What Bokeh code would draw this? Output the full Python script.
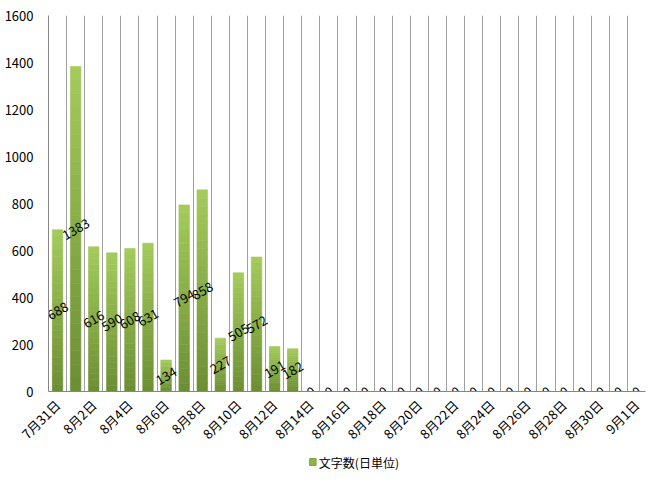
from bokeh.plotting import figure
from bokeh.models import FixedTicker, ColumnDataSource, Range1d
from bokeh.layouts import column
from bokeh.core.properties import value
from bokeh.embed import file_html
from bokeh.resources import INLINE
import math

categories = ["7月31日", "8月1日", "8月2日", "8月3日", "8月4日", "8月5日", "8月6日", "8月7日",
              "8月8日", "8月9日", "8月10日", "8月11日", "8月12日", "8月13日", "8月14日", "8月15日",
              "8月16日", "8月17日", "8月18日", "8月19日", "8月20日", "8月21日", "8月22日", "8月23日",
              "8月24日", "8月25日", "8月26日", "8月27日", "8月28日", "8月29日", "8月30日", "8月31日",
              "9月1日"]
values = [688, 1383, 616, 590, 608, 631, 134, 794, 858, 227, 505, 572, 191, 182,
          0, 0, 0, 0, 0, 0, 0, 0, 0, 0, 0, 0, 0, 0, 0, 0, 0, 0, 0]
series_name = "文字数(日単位)"
y_ticks = [0, 200, 400, 600, 800, 1000, 1200, 1400, 1600]

FONT = "Noto Sans CJK JP"
n = len(categories)
xs = list(range(n))

p = figure(width=647, height=452, output_backend="svg", toolbar_location=None,
           x_range=Range1d(-0.5, n - 0.5), y_range=Range1d(0, 1600),
           min_border_left=48, min_border_right=2, min_border_top=15, min_border_bottom=59)
p.outline_line_color = None

# gradient bars
dark = (0x6c, 0x8e, 0x33)
light = (0xa4, 0xcb, 0x5c)
N = 24
for k in range(N):
    t = (k + 0.5) / N
    c = tuple(int(round(dark[i] + (light[i] - dark[i]) * t)) for i in range(3))
    col = "#%02x%02x%02x" % c
    src = ColumnDataSource(dict(x=xs,
                                bottom=[v * k / N for v in values],
                                top=[v * (k + 1) / N for v in values]))
    p.vbar(x="x", bottom="bottom", top="top", width=0.58, source=src,
           fill_color=col, line_color=col, line_width=0.6)

# data labels
lab = ColumnDataSource(dict(x=xs, y=[v / 2 for v in values], t=[str(v) for v in values]))
p.text(x="x", y="y", text="t", source=lab, angle=30, angle_units="deg",
       text_align="center", text_baseline="middle", text_font=value(FONT),
       text_font_size="13px", text_color="#000000")

# axes
p.xaxis.ticker = FixedTicker(ticks=xs[::2])
p.xaxis.major_label_overrides = {i: categories[i] for i in xs[::2]}
p.xaxis.major_label_orientation = math.pi / 4
p.yaxis.ticker = FixedTicker(ticks=y_ticks)
for ax in (p.xaxis, p.yaxis):
    ax.axis_line_color = "#868686"
    ax.major_tick_line_color = None
    ax.minor_tick_line_color = None
    ax.major_label_text_font = FONT
    ax.major_label_text_font_size = "13px"
    ax.major_label_text_color = "#000000"
p.yaxis.major_label_standoff = 9
p.xaxis.major_label_standoff = 5

p.xgrid.ticker = FixedTicker(ticks=[i - 0.5 for i in range(n + 1)])
p.xgrid.grid_line_color = "#a0a0a0"
p.ygrid.grid_line_color = None

# legend strip below the chart (pixel-like coordinates)
lg = figure(width=647, height=19, output_backend="svg", toolbar_location=None,
            x_range=Range1d(0, 647), y_range=Range1d(0, 19),
            x_axis_location=None, y_axis_location=None,
            min_border_left=0, min_border_right=0, min_border_top=0, min_border_bottom=0)
lg.outline_line_color = None
lg.grid.visible = False
lg.rect(x=[286.5], y=[9.5], width=7, height=7, fill_color="#8db34a", line_color="#7fa440")
lg.text(x=[293], y=[9.5], text=[series_name], text_align="left", text_baseline="middle",
        text_font=value(FONT), text_font_size="12px", text_color="#000000")

layout = column(p, lg, spacing=0)
open("out.html", "w").write(file_html(layout, INLINE))
